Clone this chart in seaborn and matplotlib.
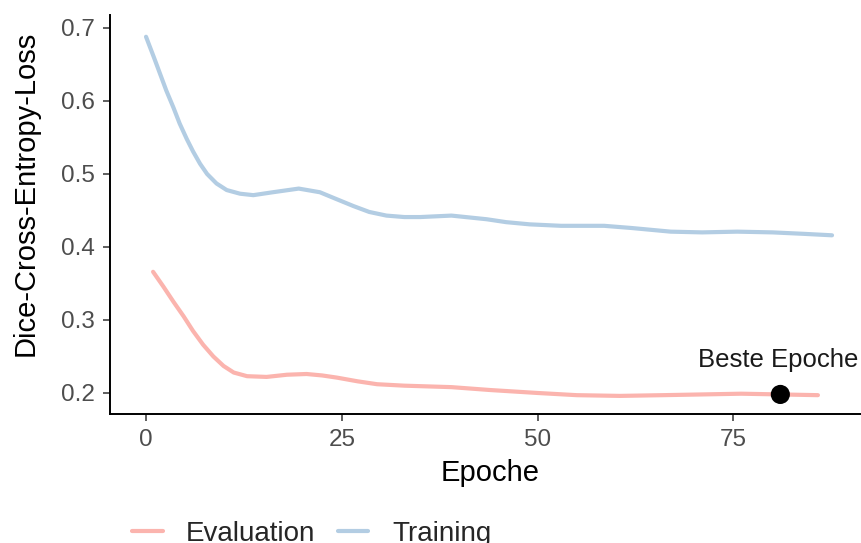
import numpy as np
import pandas as pd
import seaborn as sns
import matplotlib.pyplot as plt

# Values
train_epoch = [0, 1, 1.8, 2.6, 3.5, 4.3, 5.2, 6, 6.9, 7.8, 9, 10.3, 12, 13.7, 16.2, 19.5,
               22.2, 24, 26.5, 28.5, 30.7, 33, 35, 39, 43.5, 46, 49, 53, 58.5, 62, 67,
               71, 75.5, 80, 84, 87.6]
train_loss = [0.688, 0.660, 0.637, 0.614, 0.591, 0.569, 0.548, 0.531, 0.514, 0.500, 0.487,
              0.478, 0.473, 0.471, 0.475, 0.480, 0.475, 0.467, 0.456, 0.448, 0.443, 0.441,
              0.441, 0.443, 0.438, 0.434, 0.431, 0.429, 0.429, 0.426, 0.421, 0.420, 0.421,
              0.420, 0.418, 0.416]

eval_epoch = [0.9, 2.2, 3.5, 4.8, 6, 7.3, 8.6, 9.9, 11.2, 12.9, 15.4, 18, 20.5, 22.5, 24.4,
              27, 29.5, 33, 39, 44, 50, 55, 60.5, 66, 71, 76, 81, 85.8]
eval_loss = [0.366, 0.346, 0.325, 0.305, 0.285, 0.266, 0.250, 0.237, 0.228, 0.223, 0.222,
             0.225, 0.226, 0.224, 0.221, 0.216, 0.212, 0.210, 0.208, 0.204, 0.200, 0.197,
             0.196, 0.197, 0.198, 0.199, 0.198, 0.197]

best_epoch = [81]
best_loss = [0.198]
best_label = "Beste Epoche"

df = pd.concat([
    pd.DataFrame({"Epoche": eval_epoch, "Loss": eval_loss, "Set": "Evaluation"}),
    pd.DataFrame({"Epoche": train_epoch, "Loss": train_loss, "Set": "Training"}),
])

sns.set_theme(style="ticks")
plt.rcParams["font.family"] = ["Liberation Sans", "DejaVu Sans"]

fig = plt.figure(figsize=(8.61, 5.43), dpi=100)
ax = fig.add_axes([110 / 861, 129 / 543, 751 / 861, 399 / 543])

palette = {"Evaluation": "#FBB4AE", "Training": "#B3CDE3"}
sns.lineplot(data=df, x="Epoche", y="Loss", hue="Set", palette=palette,
             lw=3, ax=ax, legend=True)
sns.scatterplot(x=best_epoch, y=best_loss, color="black", s=190, ax=ax,
                zorder=5, edgecolor="none")
ax.text(best_epoch[0] - 0.3, 0.2356, best_label, ha="center",
        va="baseline", fontsize=18.5, color="#1a1a1a")

ax.set_xlim(-4.6, 91.3)
ax.set_ylim(0.1712, 0.7178)
ax.set_xticks([0, 25, 50, 75])
ax.set_yticks([0.2, 0.3, 0.4, 0.5, 0.6, 0.7])
ax.set_xlabel("Epoche", fontsize=21, color="black", va="top")
ax.set_ylabel("Dice-Cross-Entropy-Loss", fontsize=21, color="black")
ax.xaxis.set_label_coords(0.506, -0.112)
ax.yaxis.set_label_coords(-0.094, 0.554)
ax.tick_params(labelsize=17.5, colors="#333333", length=5, width=1.1, pad=6)
for lab in ax.get_xticklabels() + ax.get_yticklabels():
    lab.set_color("#4d4d4d")
sns.despine(ax=ax)
for s in ["left", "bottom"]:
    ax.spines[s].set_linewidth(1.4)
    ax.spines[s].set_color("black")

handles, labels = ax.get_legend_handles_labels()
ax.legend_.remove()
fig.legend(handles, labels, loc="center left", bbox_to_anchor=(132 / 861, 9 / 543),
           ncol=2, frameon=False, fontsize=20, handlelength=1.1,
           handletextpad=0.85, columnspacing=0.8, borderpad=0, borderaxespad=0)

fig.savefig("out.png", dpi=100)
